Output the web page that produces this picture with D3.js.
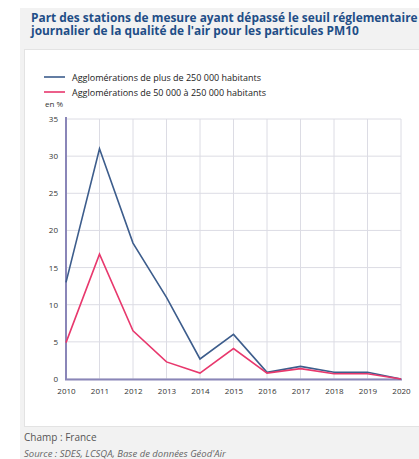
<!DOCTYPE html>
<html><head><meta charset="utf-8">
<script src="https://cdn.jsdelivr.net/npm/d3@7"></script>
<style>
html,body{margin:0;padding:0;background:#fff;}
svg{display:block;font-family:"Open Sans",sans-serif;}
</style></head>
<body>
<svg id="c" width="419" height="459"></svg>
<script>
const years = [2010,2011,2012,2013,2014,2015,2016,2017,2018,2019,2020];
const bigCities = [13,31,18.3,11,2.7,6,0.9,1.7,0.9,0.9,0];
const midCities = [4.9,16.8,6.5,2.3,0.8,4.1,0.8,1.4,0.7,0.7,0];
const yTicks = [0,5,10,15,20,25,30,35];
const seriesNames = ["Agglomérations de plus de 250 000 habitants","Agglomérations de 50 000 à 250 000 habitants"];
const colors = ["#3d5d8c","#e8386d"];

const svg = d3.select("#c");
svg.append("rect").attr("x",20).attr("y",8).attr("width",399).attr("height",451).attr("fill","#f2f2f2");
svg.append("rect").attr("x",24.5).attr("y",49.5).attr("width",400).attr("height",377).attr("fill","#fff").attr("stroke","#e3e3e3");

const title = svg.append("text").attr("fill","#1f4e87").attr("font-weight","bold").attr("font-size",11.9);
title.append("tspan").attr("x",31).attr("y",21.5).text("Part des stations de mesure ayant dépassé le seuil réglementaire");
title.append("tspan").attr("x",31).attr("y",34.5).text("journalier de la qualité de l'air pour les particules PM10");

const x = d3.scaleLinear().domain([2010,2020]).range([66,401]);
const y = d3.scaleLinear().domain([0,35]).range([379,119]);

// grid
const g = svg.append("g");
g.selectAll(".hg").data(yTicks).join("line").attr("x1",66).attr("x2",401)
 .attr("y1",d=>y(d)).attr("y2",d=>y(d)).attr("stroke","#dcdce4").attr("stroke-width",1);
g.selectAll(".vg").data(years).join("line").attr("y1",y(35)).attr("y2",y(0))
 .attr("x1",d=>x(d)).attr("x2",d=>x(d)).attr("stroke","#dcdce4").attr("stroke-width",1);

// axes
const ya = svg.append("g").attr("transform","translate(66,0)")
 .call(d3.axisLeft(y).tickValues(yTicks).tickSize(0).tickPadding(8));
ya.select(".domain").remove();
ya.selectAll("text").attr("font-size",8).attr("fill","#333").attr("font-family","Open Sans");
const xa = svg.append("g").attr("transform","translate(0,379)")
 .call(d3.axisBottom(x).tickValues(years).tickFormat(d3.format("d")).tickSize(0).tickPadding(9));
xa.select(".domain").remove();
xa.selectAll("text").attr("font-size",8).attr("fill","#333").attr("font-family","Open Sans");

svg.append("line").attr("x1",66).attr("x2",66).attr("y1",117).attr("y2",380).attr("stroke","#8a86b8").attr("stroke-width",2);
svg.append("line").attr("x1",65).attr("x2",402).attr("y1",379.5).attr("y2",379.5).attr("stroke","#8a86b8").attr("stroke-width",2);

svg.append("text").attr("x",45).attr("y",107).attr("font-size",8).attr("fill","#333").text("en %");

const line = d3.line().x((d,i)=>x(years[i])).y(d=>y(d));
[bigCities,midCities].forEach((s,k)=>{
  svg.append("path").attr("d",line(s)).attr("fill","none").attr("stroke",colors[k]).attr("stroke-width",1.6);
});
// legend
seriesNames.forEach((n,k)=>{
  const yy = 77 + k*15;
  svg.append("line").attr("x1",44).attr("x2",65).attr("y1",yy).attr("y2",yy).attr("stroke",colors[k]).attr("stroke-width",1.6);
  svg.append("text").attr("x",72).attr("y",yy+3.5).attr("font-size",9).attr("fill","#222").text(n);
});

svg.append("text").attr("x",24).attr("y",441).attr("font-size",10).attr("fill","#555").text("Champ : France");
svg.append("text").attr("x",24).attr("y",457).attr("font-size",9.5).attr("font-style","italic").attr("fill","#666").text("Source : SDES, LCSQA, Base de données Géod'Air");
</script>
</body></html>
